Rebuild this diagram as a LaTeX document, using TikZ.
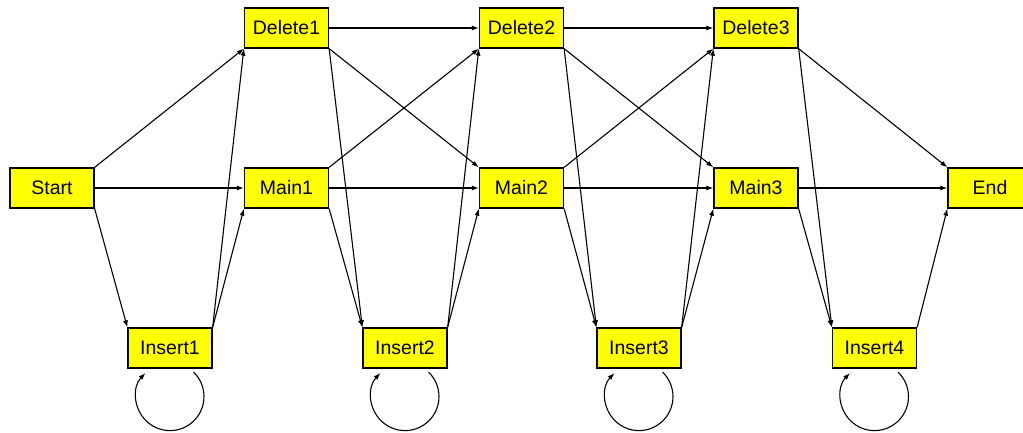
\documentclass[tikz,border=0pt]{standalone}
\usepackage{fontspec}
\setmainfont{Liberation Sans}
\usetikzlibrary{arrows.meta}
\definecolor{boxyellow}{RGB}{255,255,0}
\tikzset{
  state/.style={draw=black, line width=1.3pt, fill=boxyellow, minimum width=84pt,
    minimum height=40pt, inner sep=0pt, font=\fontsize{19.5}{21}\selectfont},
  arr/.style={line width=1.1pt, -{Latex[length=7pt,width=5pt]}},
}
\begin{document}
\begin{tikzpicture}[x=1pt,y=1pt]
  \useasboundingbox (0,0) rectangle (1023,433);
  \clip (0,0) rectangle (1023,433);

  % top row: delete states
  \node[state] (d1) at (286.5,405) {Delete1};
  \node[state] (d2) at (521.5,405) {Delete2};
  \node[state] (d3) at (756,405) {Delete3};
  % middle row: start, match states, end
  \node[state] (s)  at (52,245)    {Start};
  \node[state] (m1) at (286.5,245) {Main1};
  \node[state] (m2) at (521.5,245) {Main2};
  \node[state] (m3) at (756,245)   {Main3};
  \node[state] (e)  at (990,245)   {End};
  % bottom row: insert states
  \node[state] (i1) at (170,85)   {Insert1};
  \node[state] (i2) at (405,85)   {Insert2};
  \node[state] (i3) at (639,85)   {Insert3};
  \node[state] (i4) at (874.5,85) {Insert4};

  % transitions out of Start
  \draw[arr] (s.north east) -- (d1.south west);
  \draw[arr] (s.east) -- (m1.west);
  \draw[arr] (s.south east) -- (i1.north west);

  % transitions out of the insert states
  \draw[arr] (i1.north east) -- (d1.south west);
  \draw[arr] (i1.north east) -- (m1.south west);
  \draw[arr] (i2.north east) -- (d2.south west);
  \draw[arr] (i2.north east) -- (m2.south west);
  \draw[arr] (i3.north east) -- (d3.south west);
  \draw[arr] (i3.north east) -- (m3.south west);
  \draw[arr] (i4.north east) -- (e.south west);

  % transitions out of column 1
  \draw[arr] (d1.east) -- (d2.west);
  \draw[arr] (d1.south east) -- (m2.north west);
  \draw[arr] (d1.south east) -- (i2.north west);
  \draw[arr] (m1.north east) -- (d2.south west);
  \draw[arr] (m1.east) -- (m2.west);
  \draw[arr] (m1.south east) -- (i2.north west);

  % transitions out of column 2
  \draw[arr] (d2.east) -- (d3.west);
  \draw[arr] (d2.south east) -- (m3.north west);
  \draw[arr] (d2.south east) -- (i3.north west);
  \draw[arr] (m2.north east) -- (d3.south west);
  \draw[arr] (m2.east) -- (m3.west);
  \draw[arr] (m2.south east) -- (i3.north west);

  % transitions out of column 3
  \draw[arr] (d3.south east) -- (e.north west);
  \draw[arr] (d3.south east) -- (i4.north west);
  \draw[arr] (m3.east) -- (e.west);
  \draw[arr] (m3.south east) -- (i4.north west);

  % self loops on the insert states
  \foreach \n in {i1,i2,i3,i4}
    \draw[arr] ([xshift=23.6pt,yshift=-3.5pt]\n.south)
      arc[start angle=46, end angle=-224, radius=34pt];
\end{tikzpicture}
\end{document}
